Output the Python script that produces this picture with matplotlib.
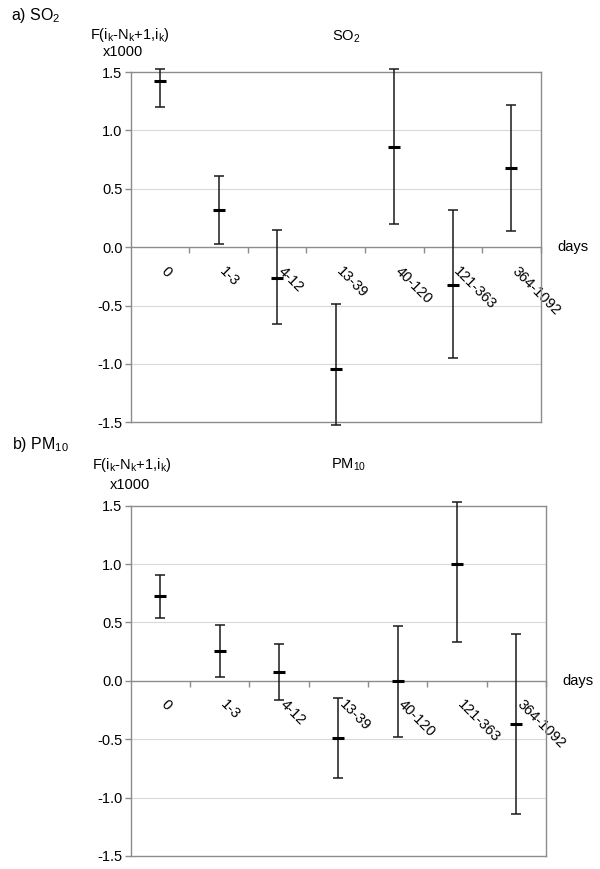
import numpy as np
import matplotlib
matplotlib.use("Agg")
import matplotlib.pyplot as plt
import matplotlib.transforms as mtransforms

plt.rcParams['font.family'] = ['Liberation Sans', 'DejaVu Sans']
plt.rcParams['mathtext.fontset'] = 'custom'
plt.rcParams['mathtext.rm'] = 'Liberation Sans'

lags = ['0', '1-3', '4-12', '13-39', '40-120', '121-363', '364-1092']

so2_mean = [1.42, 0.32, -0.26, -1.04, 0.86, -0.32, 0.68]
so2_low = [1.20, 0.03, -0.66, -1.52, 0.20, -0.95, 0.14]
so2_high = [1.53, 0.61, 0.15, -0.49, 1.53, 0.32, 1.22]

pm10_mean = [0.73, 0.26, 0.08, -0.49, 0.00, 1.00, -0.37]
pm10_low = [0.54, 0.03, -0.16, -0.83, -0.48, 0.33, -1.14]
pm10_high = [0.91, 0.48, 0.32, -0.15, 0.47, 1.53, 0.40]

fig = plt.figure(figsize=(6, 8.69), dpi=100)
ax1 = fig.add_axes([0.218, 0.514, 0.683, 0.403])
ax2 = fig.add_axes([0.218, 0.015, 0.692, 0.403])

grey = '#8c8c8c'


def panel(ax, mean, low, high, title, title_y):
    mean = np.array(mean)
    x = np.arange(len(mean)) + 0.5
    yerr = [mean - np.array(low), np.array(high) - mean]
    ax.errorbar(x, mean, yerr=yerr, fmt='none', ecolor='#1a1a1a',
                elinewidth=1.1, capsize=3.5, capthick=1.1, clip_on=False, zorder=3)
    ax.plot(x, mean, linestyle='none', marker='_', ms=8, mew=2.2,
            color='black', clip_on=False, zorder=4)
    ax.set_xlim(0, len(mean))
    ax.set_ylim(-1.5, 1.5)
    ax.set_yticks(np.arange(-1.5, 1.51, 0.5))
    ax.set_yticklabels(['%.1f' % v for v in np.arange(-1.5, 1.51, 0.5)], fontsize=10.5)
    for v in np.arange(-1.0, 1.01, 0.5):
        if v != 0:
            ax.axhline(v, color='#d9d9d9', lw=0.8, zorder=0)
    ax.axhline(-1.5, color=grey, lw=1, zorder=1, clip_on=False)
    for s in ['top', 'right', 'left']:
        ax.spines[s].set_color(grey)
        ax.spines[s].set_linewidth(1)
    ax.spines['bottom'].set_position(('data', 0))
    ax.spines['bottom'].set_color(grey)
    ax.spines['bottom'].set_linewidth(1)
    ax.tick_params(axis='y', length=4, color=grey, width=1, pad=2)
    ax.set_xticks(np.arange(1, len(mean) + 1))
    ax.set_xticklabels([])
    ax.tick_params(axis='x', which='major', length=4, direction='out', color=grey, width=1)
    ax.set_xticks(x, minor=True)
    ax.set_xticklabels(lags, minor=True, rotation=-45, ha='left', va='top',
                       rotation_mode='anchor', fontsize=10.5)
    ax.tick_params(axis='x', which='minor', length=0, pad=12)
    offset = mtransforms.ScaledTranslation(8 / 100, 0, fig.dpi_scale_trans)
    for lab in ax.get_xticklabels(minor=True):
        lab.set_transform(lab.get_transform() + offset)
    ax.text(1.04, 0.5, 'days', transform=ax.transAxes, fontsize=10.5,
            ha='left', va='center')
    ax.text(0.525, title_y, title, transform=ax.transAxes, fontsize=10.5,
            ha='center', va='center')


panel(ax1, so2_mean, so2_low, so2_high, r'SO$_\mathregular{2}$', 1.10)
panel(ax2, pm10_mean, pm10_low, pm10_high, r'PM$_\mathregular{10}$', 1.117)

ylab = r'F(i$_\mathregular{k}$-N$_\mathregular{k}$+1,i$_\mathregular{k}$)'
fig.text(0.018, 0.982, r'a) SO$_\mathregular{2}$', fontsize=11.5, va='center')
fig.text(0.217, 0.960, ylab, fontsize=10.5, ha='center', va='center')
fig.text(0.205, 0.940, 'x1000', fontsize=10.5, ha='center', va='center')
fig.text(0.02, 0.488, r'b) PM$_\mathregular{10}$', fontsize=11.5, va='center')
fig.text(0.22, 0.465, ylab, fontsize=10.5, ha='center', va='center')
fig.text(0.217, 0.442, 'x1000', fontsize=10.5, ha='center', va='center')

fig.savefig('out.png', dpi=100)
